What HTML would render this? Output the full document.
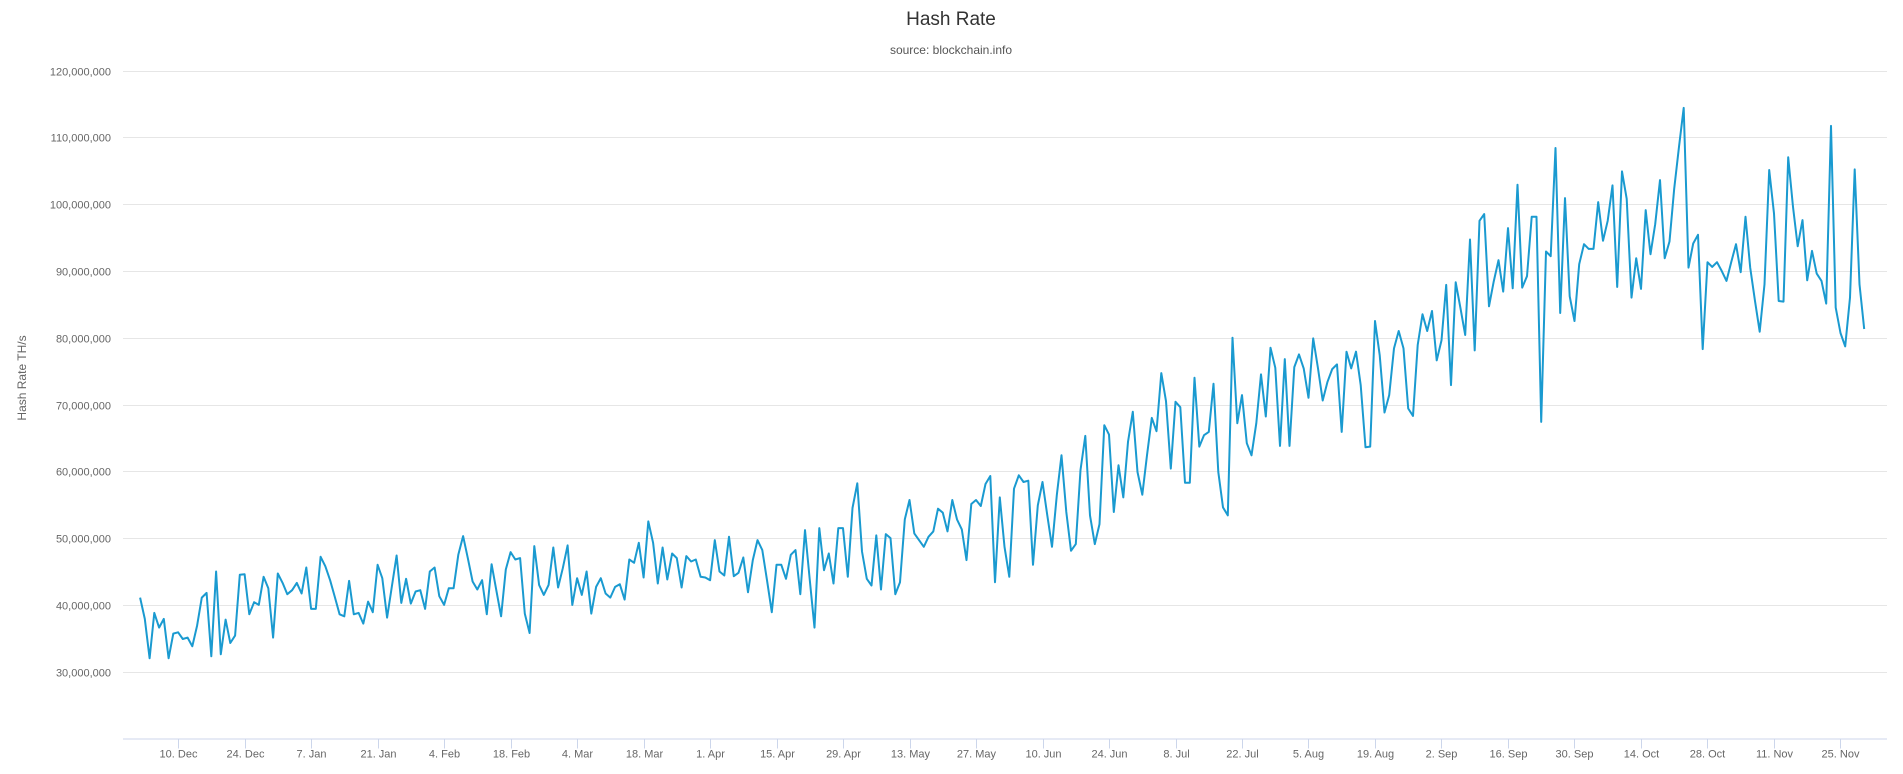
<!DOCTYPE html>
<html><head><meta charset="utf-8"><style>
html,body{margin:0;padding:0;background:#fff;}
svg{display:block;font-family:"Liberation Sans",sans-serif;}
</style></head><body>
<svg id="chart" width="1903" height="774">
<text x="951" y="25" text-anchor="middle" font-size="19" fill="#333">Hash Rate</text>
<text x="951" y="54" text-anchor="middle" font-size="12" fill="#555">source: blockchain.info</text>
<text transform="translate(26,378) rotate(-90)" text-anchor="middle" font-size="12" fill="#666">Hash Rate TH/s</text>
<g id="grid"></g><g id="ylabels"></g><g id="xaxis"></g><g id="series"></g>
</svg>
<script>
const yTicks=[20,30,40,50,60,70,80,90,100,110,120];
const yTickLabels=["","30,000,000","40,000,000","50,000,000","60,000,000","70,000,000","80,000,000","90,000,000","100,000,000","110,000,000","120,000,000"];
const xTickDays=[8,22,36,50,64,78,92,106,120,134,148,162,176,190,204,218,232,246,260,274,288,302,316,330,344,358];
const xTickLabels=["10. Dec","24. Dec","7. Jan","21. Jan","4. Feb","18. Feb","4. Mar","18. Mar","1. Apr","15. Apr","29. Apr","13. May","27. May","10. Jun","24. Jun","8. Jul","22. Jul","5. Aug","19. Aug","2. Sep","16. Sep","30. Sep","14. Oct","28. Oct","11. Nov","25. Nov"];
const hashRate=[41.1,37.9,32,38.8,36.6,37.9,32,35.7,35.9,34.9,35.1,33.8,36.9,41.1,41.8,32.3,45,32.6,37.8,34.3,35.4,44.5,44.6,38.6,40.4,40,44.2,42.5,35.1,44.7,43.3,41.6,42.2,43.3,41.7,45.6,39.4,39.4,47.2,45.8,43.7,41.2,38.6,38.3,43.6,38.6,38.8,37.2,40.5,38.9,46,44,38.1,42.7,47.4,40.3,43.9,40.2,42,
42.2,39.4,45,45.6,41.3,40,42.5,42.5,47.5,50.3,47,43.5,42.3,43.7,38.6,46.1,42.2,38.3,45.3,47.9,46.8,47,38.7,35.8,48.8,43,41.5,43,48.6,42.6,45.5,48.9,40,44,41.5,45,38.7,42.7,44,41.7,41.1,42.7,43.1,40.8,46.8,46.3,49.3,44.1,52.5,49.3,43.2,48.6,43.8,47.7,47,42.6,47.3,46.5,46.8,44.2,44.1,
43.7,49.7,45,44.4,50.2,44.3,44.8,47.1,41.9,46.7,49.7,48.2,43.7,38.9,46,46,43.9,47.5,48.2,41.6,51.2,43.7,36.6,51.5,45.2,47.7,43.2,51.5,51.5,44.2,54.5,58.2,48,43.9,42.9,50.4,42.3,50.6,50,41.6,43.4,52.8,55.7,50.7,49.7,48.7,50.2,51,54.4,53.8,51,55.7,52.8,51.3,46.7,55.1,55.7,54.8,58.1,59.3,43.4,56.1,48.7,44.2,
57.4,59.4,58.4,58.6,46,54.9,58.4,53.4,48.7,56.4,62.4,53.9,48.1,49.1,60.2,65.3,53.4,49.1,52.1,66.9,65.5,53.9,60.9,56.1,64.4,68.9,59.9,56.5,62.4,68,66,74.7,70.5,60.4,70.4,69.6,58.3,58.3,74,63.7,65.4,65.9,73.1,59.9,54.6,53.4,80,67.2,71.4,64.2,62.4,67.2,74.5,68.2,78.5,75.5,63.8,76.8,63.8,
75.6,77.5,75.4,71,79.9,75.4,70.6,73.4,75.3,76,65.9,77.9,75.4,77.9,72.9,63.6,63.7,82.5,77.4,68.8,71.4,78.4,81,78.4,69.4,68.3,78.9,83.5,81,84,76.6,79.6,87.9,72.9,88.3,84.4,80.4,94.7,78.1,97.5,98.5,84.7,88.4,91.6,86.9,96.4,87.4,102.9,87.5,89.2,98.1,98.1,67.4,92.9,92.2,108.4,83.7,100.9,86.2,82.5,91,
94,93.3,93.3,100.3,94.5,97.5,102.8,87.6,104.9,100.8,86,91.9,87.3,99.1,92.5,97,103.6,91.9,94.4,102.3,108.6,114.4,90.5,94.1,95.4,78.3,91.3,90.6,91.3,90,88.5,91.3,94,89.8,98.1,90.5,85.5,80.9,88,105.1,98.6,85.5,85.4,107,99.6,93.7,97.6,88.6,93,89.6,88.5,85.1,111.7,84.5,80.7,78.7,86,105.2,88,81.3];
const PL=123,PR=1887,PT=70.5,PB=738.5,YMIN=20,YMAX=120,DMIN=-3.6,DMAX=367.8;
function yS(v){return PB-(v-YMIN)/(YMAX-YMIN)*(PB-PT);}
function xS(d){return PL+(d-DMIN)/(DMAX-DMIN)*(PR-PL);}
const NS="http://www.w3.org/2000/svg";
function mk(tag,attrs,parent){const e=document.createElementNS(NS,tag);for(const k in attrs)e.setAttribute(k,attrs[k]);parent.appendChild(e);return e;}
const grid=document.getElementById('grid'),yl=document.getElementById('ylabels'),xa=document.getElementById('xaxis'),se=document.getElementById('series');
yTicks.forEach((v,i)=>{
  if(v===YMIN)return;
  const y=Math.round(yS(v))+0.5;
  const l=mk('line',{x1:PL,x2:PR,y1:y,y2:y,stroke:'#e6e6e6','stroke-width':1},grid);
  
  
  const t=mk('text',{x:111,y:y+4,'text-anchor':'end','font-size':11,fill:'#666'},yl);
  t.textContent=yTickLabels[i];
  
  
});
const ax=mk('line',{x1:PL,x2:PR,y1:PB+0.5,y2:PB+0.5,stroke:'#ccd6eb','stroke-width':1},xa);


xTickDays.forEach((d,i)=>{
  const x=Math.round(xS(d))+0.5;
  const tk=mk('line',{x1:x,x2:x,y1:PB,y2:PB+10,stroke:'#ccd6eb','stroke-width':1},xa);
  
  
  const t=mk('text',{x:x,y:PB+19,'text-anchor':'middle','font-size':11,fill:'#666'},xa);
  t.textContent=xTickLabels[i];
  
  
});
let d='';
hashRate.forEach((v,i)=>{d+=(i?'L':'M')+xS(i).toFixed(1)+' '+yS(v).toFixed(1);});
const p=mk('path',{d:d,fill:'none',stroke:'#1a9ad0','stroke-width':2,'stroke-linejoin':'round'},se);


</script>
</body></html>
